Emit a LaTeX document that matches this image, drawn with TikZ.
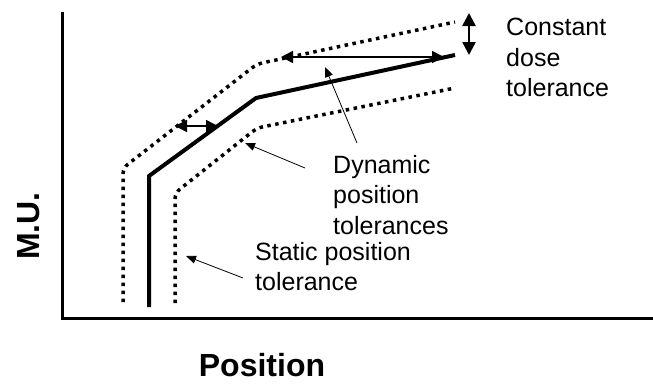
\documentclass[tikz,border=0pt]{standalone}
\usepackage{fontspec}
\setmainfont{Liberation Sans}
\usepackage{xcolor}
\usetikzlibrary{positioning,arrows.meta}
\definecolor{ink}{HTML}{000000}
\tikzset{
  axis/.style  = {draw=ink, line width=3pt},
  dose/.style  = {draw=ink, line width=4pt},
  tolr/.style  = {draw=ink, line width=3.5pt, dash pattern=on 3.5pt off 4.5pt,
                  rounded corners=6pt},
  span/.style  = {{Triangle[length=12pt,width=12pt]}-{Triangle[length=12pt,width=12pt]},
                  draw=ink, line width=1.5pt},
  vspan/.style = {{Triangle[length=13pt,width=13pt]}-{Triangle[length=13pt,width=13pt]},
                  draw=ink, line width=2.5pt},
  point/.style = {-{Triangle[length=10pt,width=8pt]}, draw=ink, line width=0.8pt},
  lbl/.style   = {font=\fontsize{25}{30.5}\selectfont, text=ink, align=left,
                  inner sep=0pt, anchor=north west},
  ttl/.style   = {font=\fontsize{32}{36}\selectfont\bfseries, text=ink, inner sep=0pt},
}

\begin{document}
\begin{tikzpicture}[x=1pt, y=-1pt]
  \useasboundingbox (0,0) rectangle (653,383);

  % axes
  \draw[axis] (62,12) -- (62,318) -- (653,318);
  \node[ttl, rotate=90] (mu)  at (29,226)  {M.U.};
  \node[ttl]            (pos) at (262,365) {Position};

  % dose curve and its tolerance band
  \draw[dose] (149,307) -- (149,176) -- (256,98) -- (455,55);
  \draw[tolr] (123,302) -- (123,168) -- (257,64) -- (455,22);
  \draw[tolr] (175,303) -- (175,193) -- (257,128) -- (455,88);

  \coordinate (hl) at (281,57);
  \coordinate (hr) at (444,57);
  \coordinate (sl) at (175,126);
  \coordinate (sr) at (218,126);
  \coordinate (vt) at (469,13);
  \coordinate (vb) at (469,55);
  \draw[span]  (hl) -- (hr);
  \draw[span]  (sl) -- (sr);
  \draw[vspan] (vt) -- (vb);

  \node[lbl] (cdt) at (506,18)  {Constant\\dose\\tolerance};
  \node[lbl] (dpt) at (333,155) {Dynamic\\position\\tolerances};
  \node[lbl] (spt) at (255,242) {Static position\\tolerance};

  \coordinate (d1) at (357,143);
  \coordinate (d1t) at (325,67);
  \coordinate (d2) at (305,168);
  \coordinate (d2t) at (245,143);
  \coordinate (s1) at (243,278);
  \coordinate (s1t) at (186,256);
  \draw[point] (d1) -- (d1t);
  \draw[point] (d2) -- (d2t);
  \draw[point] (s1) -- (s1t);
\end{tikzpicture}
\end{document}
